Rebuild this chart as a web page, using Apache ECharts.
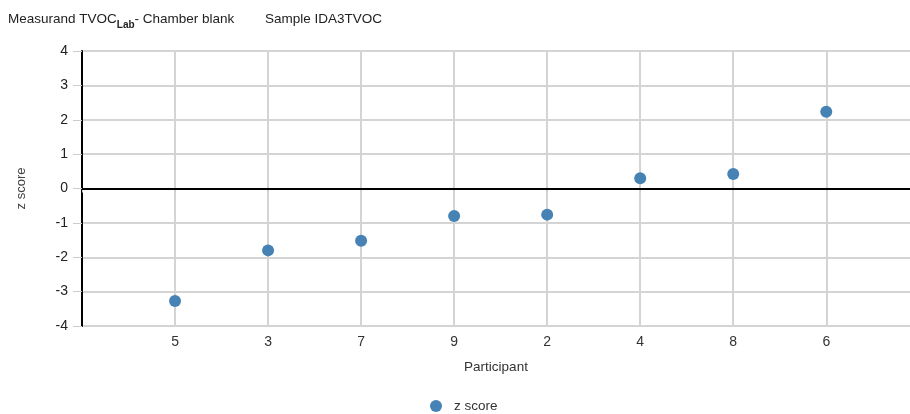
<!DOCTYPE html>
<html><head><meta charset="utf-8">
<script src="https://cdn.jsdelivr.net/npm/echarts@6/dist/echarts.min.js"></script>
<style>html,body{margin:0;padding:0;background:#fff}#c{width:910px;height:414px}</style>
</head><body><div id="c"></div>
<script>
const participants = ['5','3','7','9','2','4','8','6'];
const zScores = [-3.27, -1.80, -1.52, -0.80, -0.76, 0.30, 0.42, 2.23];
const yTicks = [-4,-3,-2,-1,0,1,2,3,4];

const chart = echarts.init(document.getElementById('c'), null, {renderer:'canvas'});
const font = 'Liberation Sans, Arial, sans-serif';
chart.setOption({
  animation:false,
  textStyle:{fontFamily:font},
  title:[{
    left:8, top:9, padding:0,
    text:'{a|Measurand TVOC}{s|Lab}{a|- Chamber blank}',
    textStyle:{rich:{
      a:{fontSize:13.5, fontWeight:'normal', color:'#222', fontFamily:font},
      s:{fontSize:10, fontWeight:'bold', color:'#222', fontFamily:font, padding:[11,0,0,0]}
    }}
  },{
    left:265, top:12, padding:0,
    text:'Sample IDA3TVOC',
    textStyle:{fontSize:13.5, fontWeight:'normal', color:'#222', fontFamily:font}
  }],
  grid:{left:82, top:51, right:0, height:275, containLabel:false},
  legend:{top:394, left:425, itemWidth:12, itemHeight:12, itemGap:10,
    textStyle:{fontSize:13.5, color:'#333', fontFamily:font, padding:[0,0,0,7]},
    data:[{name:'z score', icon:'circle'}]},
  xAxis:{
    type:'value', min:0, max:8.9, interval:1,
    name:'Participant', nameLocation:'middle', nameGap:34,
    nameTextStyle:{fontSize:13.5, color:'#333', fontFamily:font},
    axisLine:{show:false},
    axisTick:{show:true, length:4, lineStyle:{color:'#ccc'}},
    axisLabel:{fontSize:14, color:'#333', margin:9, fontFamily:font, showMaxLabel:false,
      formatter:v => (Number.isInteger(v) && v>=1 && v<=participants.length) ? participants[v-1] : ''},
    splitLine:{show:true, showMaxLine:false, lineStyle:{color:'#d4d4d4', width:2}}
  },
  yAxis:{
    type:'value', min:-4, max:4, interval:1,
    name:'z score', nameLocation:'middle', nameGap:54, nameRotate:90,
    nameTextStyle:{fontSize:13, color:'#444', fontFamily:font},
    axisLine:{show:true, onZero:false, lineStyle:{color:'#000', width:2}},
    axisTick:{show:true, length:9, lineStyle:{color:'#ccc'}},
    axisLabel:{fontSize:14, color:'#222', margin:14, fontFamily:font,
      formatter:v => yTicks.includes(v) ? String(v) : ''},
    splitLine:{show:true, lineStyle:{color:'#d4d4d4', width:2}}
  },
  series:[{
    name:'z score', type:'scatter', symbol:'circle', symbolSize:12,
    itemStyle:{color:'#4682B4', opacity:1},
    data: zScores.map((v,i)=>[i+1, v]),
    markLine:{silent:true, symbol:['none','none'], label:{show:false},
      lineStyle:{color:'#000', width:2, type:'solid'},
      data:[{yAxis:0}]},
    z:5
  }]
});
</script></body></html>
